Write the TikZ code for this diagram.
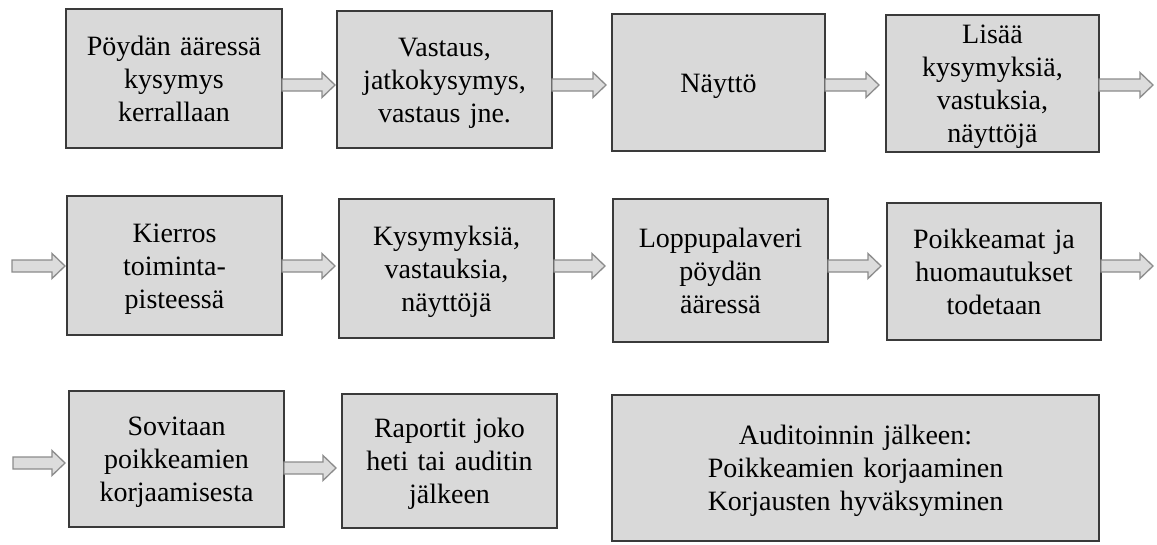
\documentclass[tikz,border=0pt]{standalone}
\usepackage{fontspec}
\setmainfont{Liberation Serif}
\usetikzlibrary{calc}
\definecolor{boxfill}{HTML}{D9D9D9}
\definecolor{boxline}{HTML}{3A3A3A}
\definecolor{arrline}{HTML}{8C8C8C}
\definecolor{arrfill}{HTML}{DCDCDC}
\tikzset{
  stepbox/.style={draw=boxline, fill=boxfill, line width=1.3pt, inner sep=0pt, outer sep=0pt,
    align=center, font=\fontsize{28}{33}\selectfont,
    execute at begin node={\rule{0pt}{27pt}},
    execute at end node={\rule[-8pt]{0pt}{8pt}}},
  blockarrow/.style={draw=arrline, fill=arrfill, line width=1.3pt, line join=miter}
}
% #1 start point, #2 target point, #3 gap before target
\newcommand\blockarr[3]{%
  \path[blockarrow] let \p1=(#1), \p2=(#2) in
    (\x1,\y1+6pt) -- (\x2-#3-13pt,\y1+6pt) -- (\x2-#3-13pt,\y1+12.5pt) -- (\x2-#3,\y1)
    -- (\x2-#3-13pt,\y1-12.5pt) -- (\x2-#3-13pt,\y1-6pt) -- (\x1,\y1-6pt) -- cycle;}
\begin{document}
\begin{tikzpicture}[x=1pt,y=-1pt]
\fill[white] (0,0) rectangle (1157,544);
\useasboundingbox (0,0) rectangle (1157,544);
% row coordinates
\coordinate (r1) at (0,85);
\coordinate (r2) at (0,266);
\coordinate (r3a) at (0,463);
\coordinate (r3b) at (0,468);
\coordinate (e1) at (1153,85);
\coordinate (s2) at (12,266);
\coordinate (e2) at (1153,267);
\coordinate (s3) at (13,463);
% row 1
\node[stepbox, minimum width=216pt, minimum height=139pt, text width=206pt] (b1) at (174,78.5) {Pöydän ääressä\\kysymys\\kerrallaan};
\node[stepbox, minimum width=215pt, minimum height=137pt, text width=205pt] (b2) at (444.5,79.5) {Vastaus,\\jatkokysymys,\\vastaus jne.};
\node[stepbox, minimum width=213pt, minimum height=137pt, text width=203pt] (b3) at (718.5,82.5) {Näyttö};
\node[stepbox, minimum width=213pt, minimum height=137pt, text width=203pt] (b4) at (992.5,83.5) {Lisää\\kysymyksiä,\\vastuksia,\\näyttöjä};
% row 2
\node[stepbox, minimum width=215pt, minimum height=139pt, text width=205pt] (b5) at (174.5,265.5) {Kierros\\toiminta-\\pisteessä};
\node[stepbox, minimum width=215pt, minimum height=139pt, text width=205pt] (b6) at (446.5,268.5) {Kysymyksiä,\\vastauksia,\\näyttöjä};
\node[stepbox, minimum width=215pt, minimum height=143pt, text width=205pt] (b7) at (720.5,270.5) {Loppupalaveri\\pöydän\\ääressä};
\node[stepbox, minimum width=214pt, minimum height=137pt, text width=204pt] (b8) at (994,271.5) {Poikkeamat ja\\huomautukset\\todetaan};
% row 3
\node[stepbox, minimum width=215pt, minimum height=136pt, text width=205pt] (b9) at (176.5,459) {Sovitaan\\poikkeamien\\korjaamisesta};
\node[stepbox, minimum width=215pt, minimum height=134pt, text width=205pt] (b10) at (449.5,461) {Raportit joko\\heti tai auditin\\jälkeen};
\node[stepbox, minimum width=487pt, minimum height=146pt, text width=477pt] (b11) at (855.5,468) {Auditoinnin jälkeen:\\Poikkeamien korjaaminen\\Korjausten hyväksyminen};
% arrows row 1
\blockarr{b1.east |- r1}{b2.west}{2pt}
\blockarr{b2.east |- r1}{b3.west}{6pt}
\blockarr{b3.east |- r1}{b4.west}{7pt}
\blockarr{b4.east |- r1}{e1}{0pt}
% arrows row 2
\blockarr{s2}{b5.west}{2pt}
\blockarr{b5.east |- r2}{b6.west}{4pt}
\blockarr{b6.east |- r2}{b7.west}{8pt}
\blockarr{b7.east |- r2}{b8.west}{6pt}
\blockarr{b8.east |- r2}{e2}{0pt}
% arrows row 3
\blockarr{s3}{b9.west}{4pt}
\blockarr{b9.east |- r3b}{b10.west}{6pt}
\end{tikzpicture}
\end{document}
